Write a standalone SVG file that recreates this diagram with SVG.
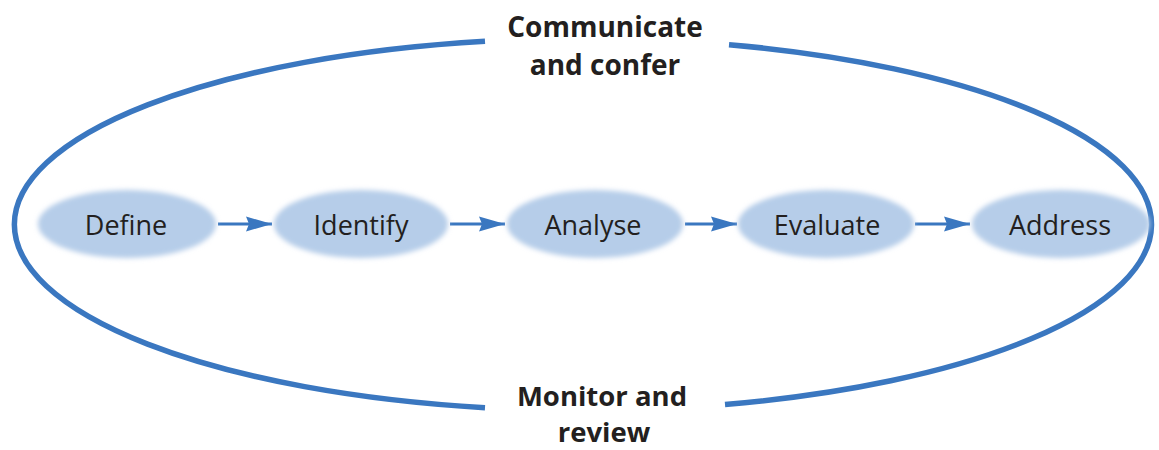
<svg xmlns="http://www.w3.org/2000/svg" width="1159" height="450" viewBox="0 0 1159 450">
  <style>
    .loop { fill: none; stroke: #3a77c0; stroke-width: 5.5; stroke-linecap: butt; }
    .node { fill: #b6cde9; filter: url(#soft); }
    .label { font-family: "Open Sans", "Noto Sans", sans-serif; font-size: 27px; fill: #231f20; text-anchor: middle; }
    .phase { font-family: "Open Sans", "Noto Sans", sans-serif; font-size: 28px; font-weight: bold; fill: #231f20; text-anchor: middle; }
    .phase.low { font-size: 27.5px; }
    .flow { stroke: #3a77c0; stroke-width: 3; fill: none; marker-end: url(#head); }
  </style>
  <defs>
    <filter id="soft" x="-10%" y="-20%" width="120%" height="140%">
      <feGaussianBlur stdDeviation="2.5"/>
    </filter>
    <marker id="head" markerUnits="userSpaceOnUse" markerWidth="26" markerHeight="16" refX="26" refY="8" orient="auto">
      <path d="M0,0.5 L26,8 L0,15.5 L3,8 z" fill="#3a77c0"/>
    </marker>
  </defs>

  <rect width="1159" height="450" fill="#ffffff"/>

  <!-- outer loop: two arcs broken by the phase labels, plus the step arrows -->
  <g id="connectors">
    <path class="loop" d="M485,41.3 A569,186 0 0 0 485,407.7"/>
    <path class="loop" d="M729,44.7 A569,186 0 0 1 725,404.5"/>
    <line class="flow" x1="218" y1="224" x2="272" y2="224"/>
    <line class="flow" x1="450" y1="224" x2="505" y2="224"/>
    <line class="flow" x1="685" y1="224" x2="737" y2="224"/>
    <line class="flow" x1="915" y1="224" x2="970" y2="224"/>
  </g>

  <g id="communicate">
    <text class="phase" x="605" y="37">Communicate</text>
    <text class="phase" x="605" y="75">and confer</text>
  </g>

  <g id="monitor">
    <text class="phase low" x="602" y="405.5">Monitor and</text>
    <text class="phase low" x="604" y="442">review</text>
  </g>

  <g id="define">
    <ellipse class="node" cx="127" cy="224" rx="89" ry="34"/>
    <text class="label" x="126" y="235">Define</text>
  </g>
  <g id="identify">
    <ellipse class="node" cx="361" cy="224" rx="87" ry="34"/>
    <text class="label" x="361" y="235">Identify</text>
  </g>
  <g id="analyse">
    <ellipse class="node" cx="595" cy="224" rx="88" ry="34"/>
    <text class="label" x="593" y="235">Analyse</text>
  </g>
  <g id="evaluate">
    <ellipse class="node" cx="826" cy="224" rx="88" ry="34"/>
    <text class="label" x="827" y="235">Evaluate</text>
  </g>
  <g id="address">
    <ellipse class="node" cx="1061" cy="224" rx="89" ry="34"/>
    <text class="label" x="1060" y="235">Address</text>
  </g>
</svg>
